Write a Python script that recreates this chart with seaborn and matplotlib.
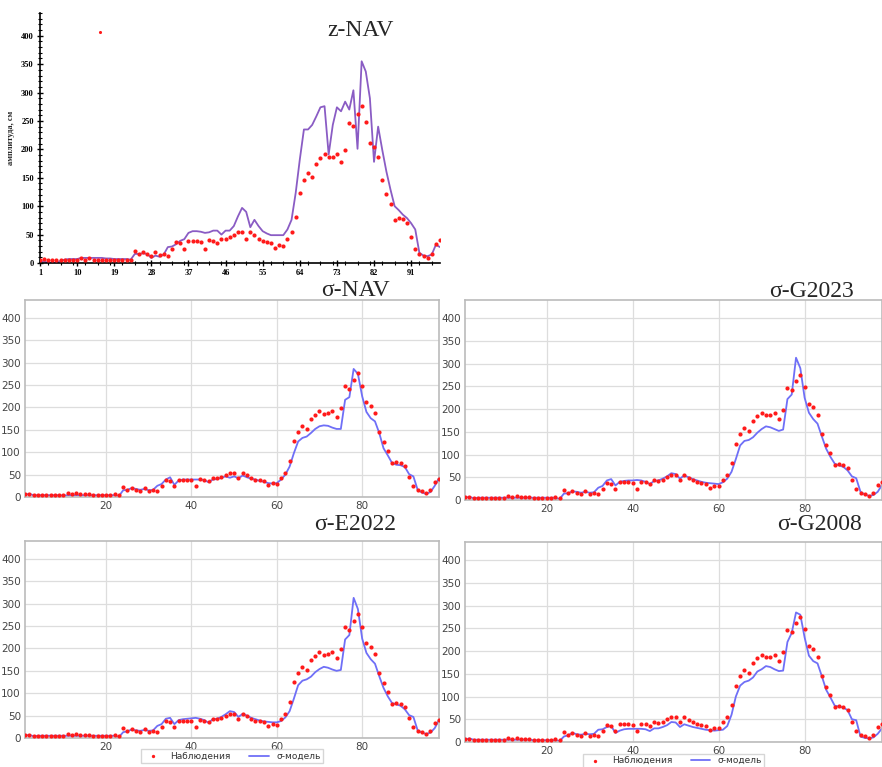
import numpy as np
import pandas as pd
import matplotlib
matplotlib.use("Agg")
import matplotlib.pyplot as plt
import seaborn as sns
from matplotlib.ticker import MultipleLocator

sns.set_theme(style="whitegrid")
plt.rcParams['font.family'] = ['DejaVu Sans']

# ---------------- data ----------------
x_idx = list(range(1, 99))

observations = [6, 7, 5, 5, 5, 5, 5, 5, 5, 5, 9, 6, 9, 6, 6, 6, 5, 5, 5, 5,
                5, 6, 5, 22, 15, 19, 15, 13, 19, 14, 15, 13, 25, 37, 35, 25, 39, 39, 39, 37,
                25, 40, 39, 36, 43, 42, 45, 50, 54, 54, 43, 54, 49, 43, 39, 37, 35, 27, 31, 30,
                43, 54, 81, 124, 146, 159, 152, 174, 184, 191, 186, 187, 192, 178, 199, 247, 241, 262, 276, 249,
                212, 204, 187, 146, 122, 103, 76, 79, 77, 70, 45, 25, 16, 13, 8, 15, 34, 40]

# stray point seen in the z-NAV panel
stray_x = [15.6]
stray_y = [406]

z_nav_model = [2, 3, 0, 0, 0, 4, 6, 7, 7, 7, 9, 9, 9, 9, 9, 9, 8, 8, 7, 7,
               7, 7, 6, 16, 16, 17, 16, 9, 13, 11, 15, 28, 29, 33, 39, 42, 53, 56, 56, 55,
               53, 54, 57, 57, 50, 57, 57, 65, 82, 97, 90, 63, 76, 65, 56, 52, 49, 49, 49, 49,
               59, 76, 123, 182, 235, 235, 243, 258, 274, 276, 191, 243, 274, 267, 284, 270, 304, 201, 355, 337,
               290, 178, 240, 199, 161, 129, 100, 93, 85, 79, 70, 59, 18, 13, 12, 15, 32, 28]

s_nav_model = [5, 7, 4, 4, 4, 4, 4, 4, 4, 3, 4, 4, 4, 4, 4, 4, 4, 4, 4, 4,
               4, 4, 2, 15, 16, 20, 18, 16, 18, 15, 16, 25, 29, 39, 44, 27, 37, 39, 39, 39,
               39, 39, 38, 33, 39, 40, 43, 46, 43, 46, 42, 48, 44, 41, 39, 36, 34, 31, 30, 31,
               39, 50, 68, 98, 124, 132, 135, 143, 152, 158, 160, 159, 155, 152, 152, 217, 223, 286, 275, 225,
               190, 176, 169, 143, 109, 93, 76, 72, 71, 67, 51, 46, 16, 10, 7, 11, 25, 42]

s_g2023_model = [5, 7, 4, 5, 5, 5, 5, 5, 5, 5, 5, 5, 5, 5, 5, 5, 5, 5, 5, 5,
                 5, 5, 2, 14, 15, 19, 18, 16, 18, 16, 17, 27, 31, 43, 46, 32, 40, 42, 43, 43,
                 44, 43, 40, 35, 42, 43, 47, 52, 59, 57, 47, 54, 50, 46, 43, 40, 38, 37, 36, 35,
                 39, 47, 62, 90, 120, 130, 132, 138, 148, 156, 162, 160, 156, 152, 155, 222, 232, 313, 290, 225,
                 192, 178, 168, 140, 113, 95, 80, 76, 73, 65, 52, 48, 18, 12, 9, 11, 18, 33]

s_e2022_model = [5, 7, 4, 5, 5, 5, 5, 5, 5, 5, 5, 5, 5, 5, 5, 5, 5, 5, 5, 5,
                 5, 5, 2, 13, 15, 19, 17, 16, 18, 16, 17, 27, 31, 43, 45, 31, 40, 42, 43, 44,
                 45, 43, 40, 34, 42, 43, 47, 53, 60, 58, 47, 54, 50, 45, 42, 39, 37, 36, 35, 35,
                 38, 46, 60, 88, 118, 128, 131, 137, 147, 154, 159, 157, 153, 150, 152, 220, 230, 313, 288, 222,
                 190, 176, 166, 138, 112, 93, 78, 75, 72, 64, 51, 47, 17, 12, 9, 12, 22, 40]

s_g2008_model = [5, 8, 5, 5, 5, 5, 5, 5, 5, 5, 5, 5, 5, 5, 5, 5, 4, 4, 4, 4,
                 4, 4, 2, 12, 15, 20, 17, 16, 18, 17, 18, 27, 28, 33, 35, 20, 25, 28, 29, 29,
                 29, 29, 28, 24, 30, 30, 33, 37, 44, 43, 33, 39, 36, 33, 31, 29, 27, 26, 25, 26,
                 27, 35, 60, 100, 124, 132, 135, 142, 155, 160, 167, 165, 160, 156, 157, 220, 240, 285, 280, 230,
                 190, 178, 173, 145, 115, 98, 80, 78, 76, 70, 50, 48, 12, 9, 8, 10, 18, 30]

z_xticks = [1, 10, 19, 28, 37, 46, 55, 64, 73, 82, 91]
s_xticks = [20, 40, 60, 80]
y_ticks = [0, 50, 100, 150, 200, 250, 300, 350, 400]

panel_titles = ["z-NAV", "σ-NAV", "σ-G2023", "σ-E2022", "σ-G2008"]
legend_labels = ["Наблюдения", "σ-модель"]
y_label = "амплитуда, см"

# ---------------- figure ----------------
W, H = 882, 767
fig = plt.figure(figsize=(W / 100, H / 100), dpi=100)
fig.patch.set_facecolor("white")


def ax_at(l, t, r, b):
    return fig.add_axes([l / W, 1 - b / H, (r - l) / W, (b - t) / H])


RED = "#ff1a1a"
PURPLE = "#8a5cc4"
BLUE = "#6f6ff7"
SERIF = "Liberation Serif"

obs_df = pd.DataFrame({"x": x_idx, "y": observations})

# ---- z-NAV panel ----
axz = ax_at(40, 13, 440, 263)
axz.set_facecolor("white")
sns.lineplot(x=x_idx, y=z_nav_model, ax=axz, color=PURPLE, linewidth=1.3)
sns.scatterplot(data=obs_df, x="x", y="y", ax=axz, color=RED, s=9, linewidth=0, zorder=3)
sns.scatterplot(x=stray_x, y=stray_y, ax=axz, color=RED, s=5, linewidth=0, zorder=3)
axz.grid(False)
axz.set_xlim(1, 98)
axz.set_ylim(0, 440)
axz.set_xticks(z_xticks)
axz.set_yticks(y_ticks)
axz.xaxis.set_minor_locator(MultipleLocator(3))
axz.yaxis.set_minor_locator(MultipleLocator(10))
for s in ["top", "right"]:
    axz.spines[s].set_visible(False)
for s in ["left", "bottom"]:
    axz.spines[s].set_color("black")
    axz.spines[s].set_linewidth(1.2)
axz.tick_params(axis="both", which="major", direction="inout", length=5, width=1,
                colors="black", labelsize=6, pad=2, bottom=True, left=True)
axz.tick_params(axis="both", which="minor", direction="inout", length=3, width=0.8,
                colors="black", bottom=True, left=True)
for lab in axz.get_xticklabels() + axz.get_yticklabels():
    lab.set_fontfamily(SERIF)
    lab.set_fontweight("bold")
axz.set_xlabel("")
axz.set_ylabel(y_label, fontsize=6, fontfamily=SERIF, fontweight="bold", labelpad=4)
fig.text(360 / W, 1 - 30 / H, panel_titles[0], fontsize=17, fontfamily=SERIF,
         ha="center", va="center")

# ---- sigma panels ----
sigma_models = [s_nav_model, s_g2023_model, s_e2022_model, s_g2008_model]
boxes = [(25, 300, 439, 497), (465, 300, 882, 500),
         (25, 541, 439, 738), (465, 542, 882, 742)]
title_pos = [(355, 290), (812, 291), (355, 524), (820, 524)]

for i, (model, box, tp) in enumerate(zip(sigma_models, boxes, title_pos)):
    ax = ax_at(*box)
    ax.set_facecolor("white")
    sns.lineplot(x=x_idx, y=model, ax=ax, color=BLUE, linewidth=1.3,
                 label=legend_labels[1] if i >= 2 else None)
    sns.scatterplot(data=obs_df, x="x", y="y", ax=ax, color=RED, s=9, linewidth=0,
                    zorder=3, label=legend_labels[0] if i >= 2 else None)
    ax.set_xlim(1, 98)
    ax.set_ylim(0, 440)
    ax.set_xticks(s_xticks)
    ax.set_yticks(y_ticks)
    ax.grid(True, color="#dddddd", linewidth=0.9)
    for s in ax.spines.values():
        s.set_color("#bbbbbb")
        s.set_linewidth(1.2)
    ax.tick_params(axis="both", length=0, labelsize=7.5, labelcolor="#444444", pad=3)
    ax.set_xlabel("")
    ax.set_ylabel("")
    fig.text(tp[0] / W, 1 - tp[1] / H, panel_titles[i + 1], fontsize=17,
             fontfamily=SERIF, ha="center", va="center")
    if i >= 2:
        h, l = ax.get_legend_handles_labels()
        order = [l.index(legend_labels[0]), l.index(legend_labels[1])]
        leg = ax.legend([h[k] for k in order], [l[k] for k in order],
                        loc="upper center",
                        bbox_to_anchor=(0.5, -0.058 if i == 2 else -0.06),
                        ncol=2, fontsize=6.5, frameon=True, fancybox=False,
                        borderpad=0.25, handlelength=2.2, handletextpad=0.8,
                        columnspacing=2.0, markerscale=0.8, borderaxespad=0.0)
        leg.get_frame().set_edgecolor("#cccccc")
        for t in leg.get_texts():
            t.set_color("#333333")
    else:
        if ax.get_legend() is not None:
            ax.get_legend().remove()

fig.savefig("out.png", dpi=100, facecolor="white")
